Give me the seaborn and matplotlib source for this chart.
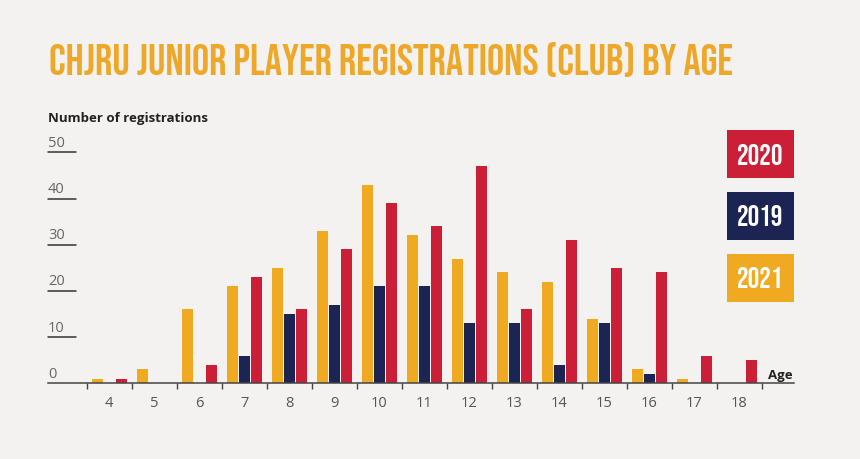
import matplotlib
matplotlib.use("Agg")
import matplotlib.pyplot as plt
from matplotlib.patches import Rectangle
from matplotlib import font_manager
import seaborn as sns
import pandas as pd
import numpy as np

# data
ages = [4, 5, 6, 7, 8, 9, 10, 11, 12, 13, 14, 15, 16, 17, 18]
reg_2021 = [1, 3, 16, 21, 25, 33, 43, 32, 27, 24, 22, 14, 3, 1, 0]
reg_2019 = [0, 0, 0, 6, 15, 17, 21, 21, 13, 13, 4, 13, 2, 0, 0]
reg_2020 = [1, 0, 4, 23, 16, 29, 39, 34, 47, 16, 31, 25, 24, 6, 5]
bar_order = ["2021", "2019", "2020"]
legend_order = ["2020", "2019", "2021"]
y_ticks = [0, 10, 20, 30, 40, 50]

title = "CHJRU JUNIOR PLAYER REGISTRATIONS (CLUB) BY AGE"
y_label = "Number of registrations"
x_label = "Age"

palette = {"2021": "#EFAA22", "2019": "#1B2452", "2020": "#CB1F37"}
bg = "#F3F2F0"
body = ["Open Sans", "DejaVu Sans"]

W, H = 860, 459


def fx(px):
    return px / W


def fy(py):
    return 1 - py / H


def pick_narrow():
    # find a condensed face for the headline and the legend boxes
    fonts = font_manager.fontManager.ttflist
    names = {f.name for f in fonts}
    for cand in ["Bebas Neue", "Oswald", "Roboto Condensed", "Open Sans Condensed",
                 "Liberation Sans Narrow", "DejaVu Sans Condensed", "Noto Sans Condensed"]:
        if cand in names:
            return {"family": cand}
    for f in fonts:
        if f.name in ("Roboto", "Noto Sans", "DejaVu Sans", "Open Sans") and \
                str(f.stretch) in ("condensed", "semi-condensed", "extra-condensed", "75", "87"):
            return {"family": f.name, "stretch": f.stretch}
    return {"family": "DejaVu Sans"}


def fit_width(txt, target, size):
    fig.canvas.draw()
    w = txt.get_window_extent().width
    txt.set_fontsize(size * target / w)


narrow = pick_narrow()

rows = []
for year, vals in zip(["2021", "2019", "2020"], [reg_2021, reg_2019, reg_2020]):
    for a, v in zip(ages, vals):
        rows.append({"age": str(a), "year": year, "n": v})
df = pd.DataFrame(rows)

sns.set_theme(style="white")
plt.rcParams["font.family"] = body

fig = plt.figure(figsize=(W / 100, H / 100), dpi=100, facecolor=bg)
base_y, top_y = 383.3, 152.3
ax = fig.add_axes([fx(48), fy(base_y), fx(794 - 48), (base_y - top_y) / H])
ax.set_facecolor(bg)

sns.barplot(data=df, x="age", y="n", hue="year", order=[str(a) for a in ages],
            hue_order=bar_order, palette=palette, width=0.8, gap=0.08,
            saturation=1, errorbar=None, legend=False, linewidth=0, ax=ax)

ax.set_xlim(-1.36, 15.22)
ax.set_ylim(0, 50)
ax.set_xlabel("")
ax.set_ylabel("")
for s in ["top", "right", "left"]:
    ax.spines[s].set_visible(False)
ax.spines["bottom"].set_color("#444444")
ax.spines["bottom"].set_linewidth(1.1)

ax.set_yticks([])
ax.set_xticks(range(len(ages)))
ax.set_xticklabels([str(a) for a in ages])
ax.set_xticks(np.arange(-0.5, len(ages), 1), minor=True)
ax.tick_params(axis="x", which="major", length=0, pad=9, labelsize=10.5,
               labelcolor="#555555")
ax.tick_params(axis="x", which="minor", length=4.5, width=1, color="#444444",
               direction="out", bottom=True)

# y scale: short rules with the value above each
ytr = ax.get_yaxis_transform()
for v in y_ticks:
    if v > 0:
        ax.plot([0, 0.0375], [v, v], color="#333333", lw=1.1,
                transform=ytr, clip_on=False)
    ax.annotate(str(v), xy=(0, v), xycoords=ytr, xytext=(0, 4),
                textcoords="offset points", ha="left", va="baseline",
                fontsize=10.5, color="#666666")

fig.text(fx(48), fy(122), y_label, ha="left", va="baseline", fontsize=9.5,
         fontweight="bold", color="#222222")
fig.text(fx(793), fy(379), x_label, ha="right", va="baseline", fontsize=9.5,
         fontweight="bold", color="#222222")

t = fig.text(fx(49), fy(75), title, ha="left", va="baseline", fontsize=26,
             fontweight="bold", color="#EDA82A", **narrow)
fit_width(t, 735 - 49, 26)

# legend boxes
for i, year in enumerate(legend_order):
    top = 130 + i * 62
    fig.patches.append(Rectangle((fx(727), fy(top + 48)), fx(67), 48 / H,
                                 transform=fig.transFigure,
                                 facecolor=palette[year], edgecolor="none"))
    lt = fig.text(fx(760.5), fy(top + 24), year, ha="center", va="center",
                  fontsize=19, fontweight="bold", color="white", **narrow)
    fit_width(lt, 46, 19)

fig.savefig("out.png", dpi=100, facecolor=bg)
